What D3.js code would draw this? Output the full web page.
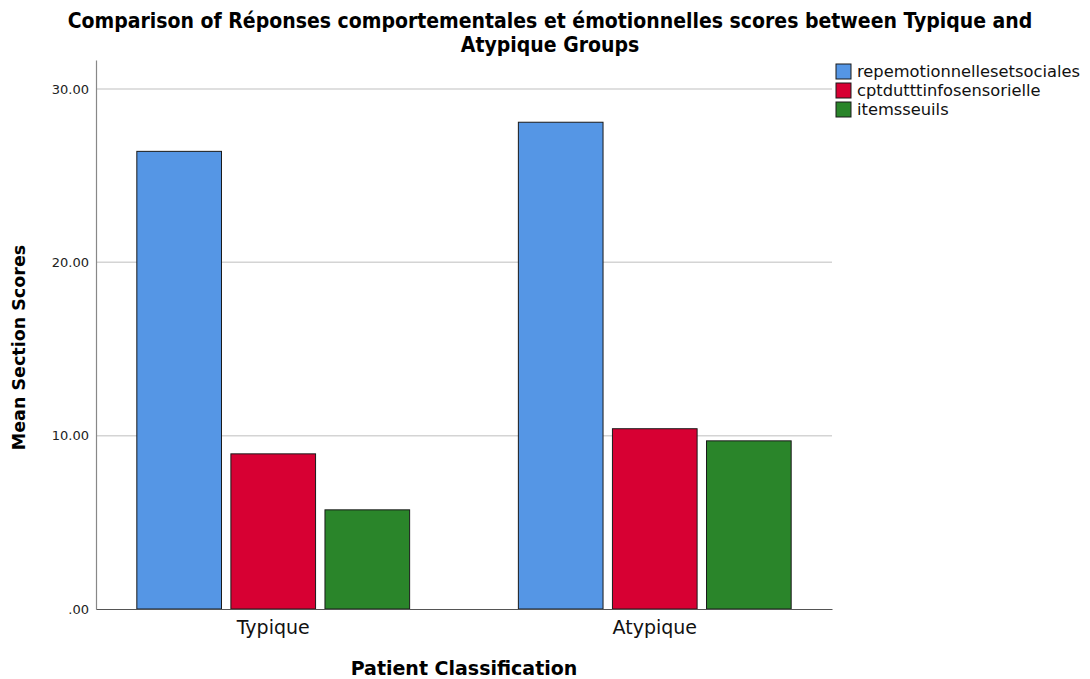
<!DOCTYPE html>
<html>
<head>
<meta charset="utf-8">
<script src="https://cdn.jsdelivr.net/npm/d3@7"></script>
<style>
  body { margin: 0; background: #fff; }
  text { font-family: "DejaVu Sans", sans-serif; }
</style>
</head>
<body>
<div id="chart"></div>
<script>
var groups = ["Typique", "Atypique"];
var series = ["repemotionnellesetsociales", "cptdutttinfosensorielle", "itemsseuils"];
var colors = ["#5596e5", "#d70033", "#2a852a"];
var typiqueValues = [26.4, 8.95, 5.72];
var atypiqueValues = [28.08, 10.4, 9.7];
var yTicks = [0, 10, 20, 30];
var yTickLabels = [".00", "10.00", "20.00", "30.00"];

var values = [typiqueValues, atypiqueValues];

var width = 1090,
    height = 679;

var plot = { left: 96, right: 832, top: 60, bottom: 609 };

var svg = d3.select("#chart").append("svg")
    .attr("width", width)
    .attr("height", height);

var x0 = d3.scaleBand()
    .domain(groups)
    .range([plot.left, plot.right])
    .paddingInner(0.285)
    .paddingOuter(0.107);

var x1 = d3.scaleBand()
    .domain(series)
    .range([0, x0.bandwidth()])
    .paddingInner(0.1);

var y = d3.scaleLinear()
    .domain([0, 31.67])
    .range([plot.bottom, plot.top]);

// grid lines
svg.append("g").selectAll("line")
    .data(yTicks.filter(function (d) { return d > 0; }))
    .enter().append("line")
    .attr("x1", plot.left)
    .attr("x2", plot.right)
    .attr("y1", function (d) { return y(d); })
    .attr("y2", function (d) { return y(d); })
    .attr("stroke", "#d4d4d4")
    .attr("stroke-width", 1.5);

// y axis
var yAxis = svg.append("g")
    .attr("transform", "translate(" + plot.left + ",0)")
    .call(d3.axisLeft(y).tickValues(yTicks).tickSize(0).tickPadding(7)
        .tickFormat(function (d, i) { return yTickLabels[i]; }));
yAxis.select(".domain").attr("stroke", "#888").attr("stroke-width", 1.2);
yAxis.selectAll("text").attr("font-size", 13).attr("fill", "#222");

// bars
var gGroups = svg.append("g").selectAll("g")
    .data(groups)
    .enter().append("g")
    .attr("transform", function (d) { return "translate(" + x0(d) + ",0)"; });

gGroups.selectAll("rect")
    .data(function (d, i) {
        return series.map(function (s, j) { return { key: s, value: values[i][j], color: colors[j] }; });
    })
    .enter().append("rect")
    .attr("x", function (d) { return x1(d.key); })
    .attr("y", function (d) { return y(d.value); })
    .attr("width", x1.bandwidth())
    .attr("height", function (d) { return y(0) - y(d.value); })
    .attr("fill", function (d) { return d.color; })
    .attr("stroke", "#1a1a1a")
    .attr("stroke-width", 1);

// x axis
var xAxis = svg.append("g")
    .attr("transform", "translate(0," + plot.bottom + ")")
    .call(d3.axisBottom(x0).tickSize(0).tickPadding(12).tickSizeOuter(0));
xAxis.select(".domain").attr("stroke", "#555").attr("stroke-width", 1.2);
xAxis.selectAll("text").attr("font-size", 19).attr("fill", "#111");

// title
var title = svg.append("text")
    .attr("x", 550)
    .attr("y", 28)
    .attr("text-anchor", "middle")
    .attr("font-weight", "bold")
    .attr("font-size", 21)
    .attr("font-stretch", "condensed")
    .attr("fill", "#000");
title.append("tspan").attr("x", 550).attr("dy", 0)
    .text("Comparison of Réponses comportementales et émotionnelles scores between Typique and");
title.append("tspan").attr("x", 550).attr("dy", 24)
    .text("Atypique Groups");

// axis labels
svg.append("text")
    .attr("transform", "translate(25," + ((plot.top + plot.bottom) / 2 + 13) + ") rotate(-90)")
    .attr("text-anchor", "middle")
    .attr("font-weight", "bold")
    .attr("font-size", 17.5)
    .text("Mean Section Scores");

svg.append("text")
    .attr("x", (plot.left + plot.right) / 2)
    .attr("y", 675)
    .attr("text-anchor", "middle")
    .attr("font-weight", "bold")
    .attr("font-size", 19)
    .text("Patient Classification");

// legend
var legend = svg.append("g").selectAll("g")
    .data(series)
    .enter().append("g")
    .attr("transform", function (d, i) { return "translate(836," + (64 + i * 19) + ")"; });

legend.append("rect")
    .attr("width", 15)
    .attr("height", 15)
    .attr("fill", function (d, i) { return colors[i]; })
    .attr("stroke", "#1a1a1a")
    .attr("stroke-width", 1);

legend.append("text")
    .attr("x", 21)
    .attr("y", 13)
    .attr("font-size", 16.3)
    .attr("fill", "#111")
    .text(function (d) { return d; });
</script>
</body>
</html>
